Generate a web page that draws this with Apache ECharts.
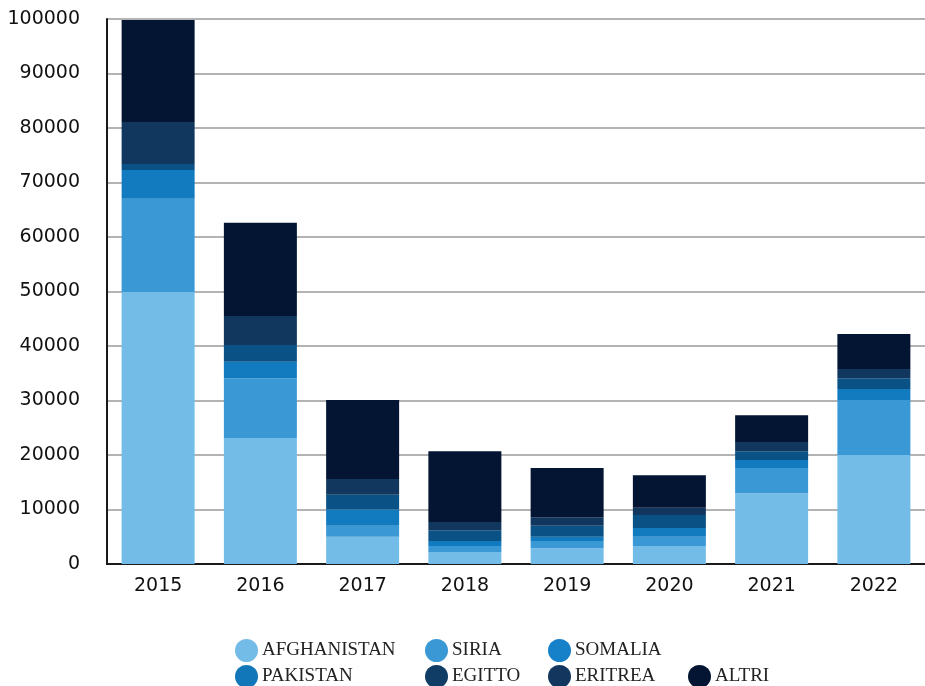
<!DOCTYPE html>
<html>
<head>
<meta charset="utf-8">
<script src="https://cdn.jsdelivr.net/npm/echarts@6/dist/echarts.min.js"></script>
<style>
  html, body { margin: 0; padding: 0; background: #fff; }
  #chart { width: 925px; height: 686px; }
</style>
</head>
<body>
<div id="chart"></div>
<script>
// anni
var years = ['2015', '2016', '2017', '2018', '2019', '2020', '2021', '2022'];

// valori per paese
var afghanistan = [49900, 23100, 5000, 2200, 2900, 3300, 13000, 20000];
var siria       = [17100, 11000, 2000, 1100, 1300, 1700, 4600, 10100];
var somalia     = [5300, 3000, 3000, 900, 800, 1600, 1500, 2000];
var pakistan    = [0, 0, 0, 0, 0, 0, 0, 0];
var egitto      = [1100, 3100, 2700, 2000, 2000, 2400, 1600, 2000];
var eritrea     = [7700, 5300, 2900, 1500, 1600, 1300, 1700, 1700];
var altri       = [18700, 17100, 14500, 13000, 9000, 6000, 4900, 6400];

var yTicks = [0, 10000, 20000, 30000, 40000, 50000, 60000, 70000, 80000, 90000, 100000];

var names  = ['AFGHANISTAN', 'SIRIA', 'SOMALIA', 'PAKISTAN', 'EGITTO', 'ERITREA', 'ALTRI'];
var values = [afghanistan, siria, somalia, pakistan, egitto, eritrea, altri];
var colors = ['#74bce8', '#3a98d5', '#127abf', '#127abf', '#0a5285', '#11375f', '#041533'];
// colori delle icone in legenda
var iconColors = ['#74bce8', '#3a98d5', '#1680c8', '#1277b8', '#0f3d66', '#12365e', '#041533'];
// posizione delle voci di legenda (griglia 4 colonne)
var legendPos = [[230, 634], [420, 634], [543, 634], [230, 660], [420, 660], [543, 660], [683, 660]];

var chart = echarts.init(document.getElementById('chart'));

var legends = names.map(function (n, i) {
  return {
    left: legendPos[i][0],
    top: legendPos[i][1],
    orient: 'horizontal',
    icon: 'circle',
    itemWidth: 23,
    itemHeight: 23,
    itemGap: 0,
    selectedMode: false,
    data: [{ name: n, itemStyle: { color: iconColors[i] } }],
    textStyle: { fontFamily: 'Liberation Serif', fontSize: 19, color: '#222', padding: [0, 0, 0, -1] }
  };
});

var series = names.map(function (n, i) {
  return {
    name: n,
    type: 'bar',
    stack: 'tot',
    barWidth: 73,
    itemStyle: { color: colors[i] },
    emphasis: { disabled: true },
    data: values[i]
  };
});

var option = {
  animation: false,
  grid: { left: 107, right: -3, top: 19, bottom: 122 },
  legend: legends,
  xAxis: {
    type: 'category',
    data: years,
    axisLine: { lineStyle: { color: '#1a1a1a', width: 2 } },
    axisTick: { show: false },
    axisLabel: { fontFamily: 'DejaVu Sans', fontSize: 19, color: '#111', margin: 13 }
  },
  yAxis: {
    type: 'value',
    min: yTicks[0],
    max: yTicks[yTicks.length - 1],
    interval: 10000,
    axisLine: { show: true, lineStyle: { color: '#1a1a1a', width: 2 } },
    axisTick: { show: false },
    axisLabel: {
      fontFamily: 'DejaVu Sans', fontSize: 19, color: '#111', margin: 27,
      formatter: function (v) { return String(v); }
    },
    splitLine: { lineStyle: { color: '#b3b3b3', width: 2 } }
  },
  series: series
};

chart.setOption(option);
</script>
</body>
</html>
